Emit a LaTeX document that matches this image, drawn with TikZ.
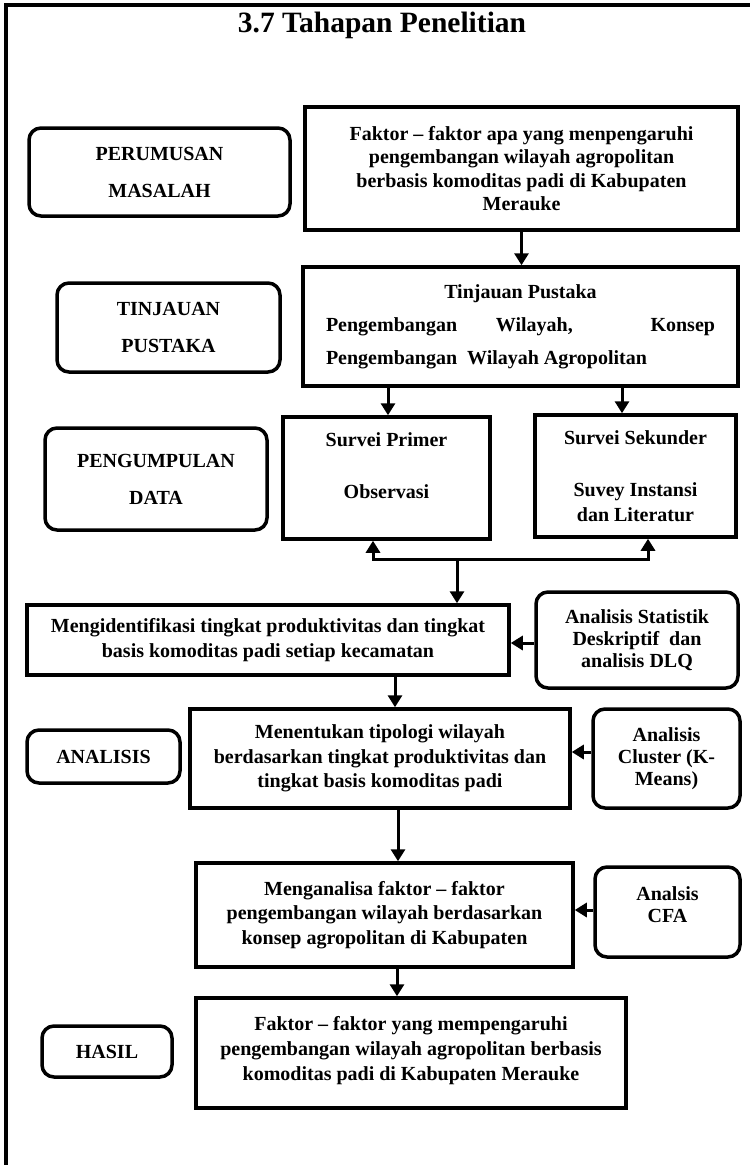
\documentclass[tikz,border=0pt]{standalone}
\usepackage{fontspec}
\setmainfont{Liberation Serif}
\usetikzlibrary{arrows.meta}
\begin{document}
\begin{tikzpicture}[x=1pt,y=-1pt,
  box/.style={draw, line width=3.5pt, inner sep=0pt, align=center,
    font=\fontsize{20}{24.5}\selectfont\bfseries},
  rbox/.style={box, rounded corners=12pt},
  sbox/.style={rbox, font=\fontsize{20}{22}\selectfont\bfseries},
  capbox/.style={rbox, font=\fontsize{20}{37}\selectfont\bfseries},
  arr/.style={line width=3pt, -{Triangle[length=12pt,width=14pt]}},
  dbl/.style={line width=3pt, {Triangle[length=12pt,width=14pt]}-{Triangle[length=12pt,width=14pt]}},
  frame/.style={line width=3.5pt}
]
\useasboundingbox (0,0) rectangle (750,1165);
% outer frame (top and left only)
\draw[frame] (4,5) -- (750,5);
\draw[frame, line width=4pt] (6,3) -- (6,1165);

\node[font=\fontsize{29.5}{30}\selectfont\bfseries, anchor=base] (title) at (382,32) {3.7 Tahapan Penelitian};

% left labels
\node[capbox, minimum width=261pt, minimum height=88pt] (perum) at (159.5,172) {PERUMUSAN\\MASALAH};
\node[capbox, minimum width=223pt, minimum height=89pt] (tinjl) at (168.5,327.5) {TINJAUAN\\PUSTAKA};
\node[capbox, minimum width=222pt, minimum height=102pt] (pengl) at (156,479) {PENGUMPULAN\\DATA};
\node[rbox, minimum width=153pt, minimum height=53pt] (anal) at (103.5,756.5) {ANALISIS};
\node[rbox, minimum width=130pt, minimum height=51pt] (hasl) at (107,1051.5) {HASIL};

% main boxes
\node[box, font=\fontsize{20}{23.2}\selectfont\bfseries, minimum width=433pt, minimum height=123pt] (faktor) at (521.5,168.5)
  {Faktor -- faktor apa yang menpengaruhi\\pengembangan wilayah agropolitan\\berbasis komoditas padi di Kabupaten\\Merauke};
\node[box, font=\fontsize{20}{33}\selectfont\bfseries, minimum width=435pt, minimum height=119pt] (tinj) at (520.5,326.5)
  {Tinjauan Pustaka\\
   \makebox[389pt][l]{Pengembangan\hfill Wilayah,\hfill\hfill Konsep}\\
   \makebox[389pt][l]{Pengembangan\ \ Wilayah Agropolitan}};
\node[box, font=\fontsize{20}{25}\selectfont\bfseries, minimum width=207pt, minimum height=122pt] (prim) at (386.5,478)
  {Survei Primer\\[27pt]Observasi\\[-1pt]\mbox{}};
\node[box, font=\fontsize{20}{25}\selectfont\bfseries, minimum width=201pt, minimum height=122pt] (sek) at (635.5,476)
  {Survei Sekunder\\[27pt]Suvey Instansi\\dan Literatur};
\node[box, font=\fontsize{20}{25}\selectfont\bfseries, minimum width=482pt, minimum height=70pt] (mid) at (268,640)
  {Mengidentifikasi tingkat produktivitas dan tingkat\\basis komoditas padi setiap kecamatan};
\node[box, minimum width=380pt, minimum height=99pt] (tipo) at (380,758.5)
  {Menentukan tipologi wilayah\\berdasarkan tingkat produktivitas dan\\tingkat basis komoditas padi};
\node[box, minimum width=377pt, minimum height=104pt] (mgan) at (384.5,915)
  {Menganalisa faktor -- faktor\\pengembangan wilayah berdasarkan\\konsep agropolitan di Kabupaten};
\node[box, font=\fontsize{20}{25}\selectfont\bfseries, minimum width=430pt, minimum height=110pt] (hbox) at (411,1053)
  {Faktor -- faktor yang mempengaruhi\\pengembangan wilayah agropolitan berbasis\\komoditas padi di Kabupaten Merauke\\[-15pt]\mbox{}};

% method boxes
\node[sbox, minimum width=202pt, minimum height=96pt] (stat) at (637,640)
  {Analisis Statistik\\Deskriptif\ \ dan\\analisis DLQ};
\node[sbox, minimum width=147pt, minimum height=99pt] (clus) at (666.5,758.5)
  {Analisis\\Cluster (K-\\Means)};
\node[sbox, minimum width=145pt, minimum height=90pt] (cfa) at (667.5,912)
  {Analsis\\CFA\\[-8pt]\mbox{}};

% connectors
\draw[arr] (faktor.south) -- (faktor.south |- tinj.north);
\coordinate (a1) at (388,0);
\coordinate (a2) at (622,0);
\draw[arr] (a1 |- tinj.south) -- (a1 |- prim.north);
\draw[arr] (a2 |- tinj.south) -- (a2 |- sek.north);
\coordinate (bl) at (373,559);
\coordinate (br) at (648,559);
\coordinate (bj) at (457,559);
\draw[dbl] (bl |- prim.south) -- (bl) -- (br) -- (br |- sek.south);
\draw[arr] (bj) -- (bj |- mid.north);
\coordinate (a3) at (395,0);
\coordinate (a4) at (398,0);
\coordinate (a5) at (397,0);
\draw[arr] (a3 |- mid.south) -- (a3 |- tipo.north);
\draw[arr] (a4 |- tipo.south) -- (a4 |- mgan.north);
\draw[arr] (a5 |- mgan.south) -- (a5 |- hbox.north);
\coordinate (h1) at (0,643);
\coordinate (h2) at (0,752);
\coordinate (h3) at (0,910);
\draw[arr] (stat.west |- h1) -- (mid.east |- h1);
\draw[arr] (clus.west |- h2) -- (tipo.east |- h2);
\draw[arr] (cfa.west |- h3) -- (mgan.east |- h3);
\end{tikzpicture}
\end{document}
